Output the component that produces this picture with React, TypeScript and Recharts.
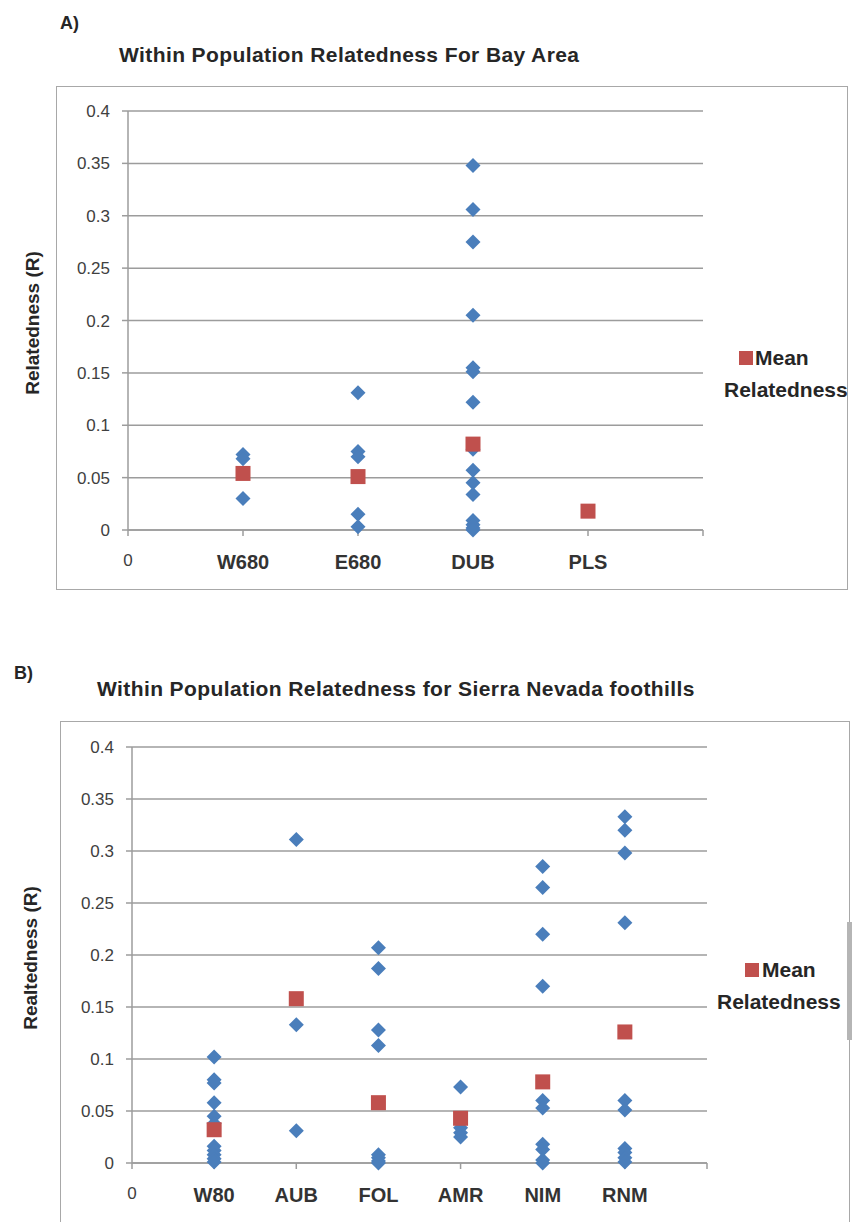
import React from 'react';
import { ScatterChart, Scatter, XAxis, YAxis, CartesianGrid } from 'recharts';

// Panel A: Bay Area
const bayCategories = ['W680', 'E680', 'DUB', 'PLS'];
const bayValues = [
  [0.072, 0.068, 0.030],
  [0.131, 0.075, 0.070, 0.015, 0.003],
  [0.348, 0.306, 0.275, 0.205, 0.155, 0.151, 0.122, 0.077, 0.057, 0.045, 0.034, 0.009, 0.005, 0.002, 0.0],
  []
];
const bayMeans = [0.054, 0.051, 0.082, 0.018];

// Panel B: Sierra Nevada foothills
const sierraCategories = ['W80', 'AUB', 'FOL', 'AMR', 'NIM', 'RNM'];
const sierraValues = [
  [0.102, 0.080, 0.077, 0.058, 0.045, 0.038, 0.016, 0.012, 0.008, 0.004, 0.001],
  [0.311, 0.133, 0.031],
  [0.207, 0.187, 0.128, 0.113, 0.008, 0.005, 0.002, 0.0],
  [0.073, 0.034, 0.029, 0.025],
  [0.285, 0.265, 0.220, 0.170, 0.060, 0.053, 0.018, 0.013, 0.003, 0.0],
  [0.333, 0.320, 0.298, 0.231, 0.060, 0.051, 0.014, 0.010, 0.005, 0.001]
];
const sierraMeans = [0.032, 0.158, 0.058, 0.043, 0.078, 0.126];

const yTicks = [0, 0.05, 0.1, 0.15, 0.2, 0.25, 0.3, 0.35, 0.4];

const BLUE = '#4A7EBB';
const RED = '#C0504D';
const GRID = '#9c9c9c';
const FONT = "'Liberation Sans', Arial, sans-serif";

const toPoints = (values: number[][]) =>
  values.flatMap((vals, i) => vals.map((v) => ({ x: i + 1, y: v })));
const toMeans = (means: number[]) => means.map((v, i) => ({ x: i + 1, y: v }));

const Diamond = (props: any) => {
  const { cx, cy } = props;
  const r = 7.5;
  return <path d={`M${cx},${cy - r}L${cx + r},${cy}L${cx},${cy + r}L${cx - r},${cy}Z`} fill={BLUE} />;
};

const Square = (props: any) => {
  const { cx, cy } = props;
  const s = 15;
  return <rect x={cx - s / 2} y={cy - s / 2} width={s} height={s} fill={RED} />;
};

function makeXTick(labels: string[]) {
  return (props: any) => {
    const { x, y, payload } = props;
    const label = labels[payload.value] ?? '';
    const isZero = payload.value === 0;
    return (
      <text
        x={x}
        y={y}
        dy={isZero ? 28 : 31}
        textAnchor="middle"
        fontFamily={FONT}
        fontSize={isZero ? 17 : 20}
        fontWeight={isZero ? 400 : 700}
        fill={isZero ? '#404040' : '#333'}>
        {label}
      </text>);
  };
}

function Panel({
  categories, values, means, top, height, plotLeft, plotRight, plotTop, plotBottom
}: any) {
  const n = categories.length + 1;
  const xTicks = Array.from({ length: n + 1 }, (_, i) => i);
  const xLabels = ['0', ...categories, ''];
  const yAxisWidth = 60;
  const xAxisHeight = 50;
  return (
    <div style={{ position: 'absolute', left: 0, top, width: 854, height }}>
      <ScatterChart
        width={854}
        height={height}
        margin={{
          top: plotTop,
          left: plotLeft - yAxisWidth,
          right: 854 - plotRight,
          bottom: height - plotBottom - xAxisHeight
        }}>
        <CartesianGrid vertical={false} stroke={GRID} strokeWidth={1.5} />
        <XAxis
          type="number"
          dataKey="x"
          domain={[0, n]}
          ticks={xTicks}
          interval={0}
          height={xAxisHeight}
          tickSize={6}
          stroke={GRID}
          strokeWidth={1.5}
          tick={makeXTick(xLabels)} />
        <YAxis
          type="number"
          dataKey="y"
          domain={[0, 0.4]}
          ticks={yTicks}
          interval={0}
          width={yAxisWidth}
          tickSize={6}
          tickMargin={12}
          stroke={GRID}
          strokeWidth={1.5}
          tick={{ fill: '#404040', fontSize: 17, fontFamily: FONT }} />
        <Scatter data={toPoints(values)} shape={<Diamond />} isAnimationActive={false} />
        <Scatter data={toMeans(means)} shape={<Square />} isAnimationActive={false} />
      </ScatterChart>
    </div>);
}

const text = (style: React.CSSProperties, content: string) =>
  <div style={{ position: 'absolute', fontFamily: FONT, whiteSpace: 'nowrap', color: '#262626', lineHeight: '24px', ...style }}>{content}</div>;

export default function App() {
  return (
    <div style={{ position: 'absolute', left: 0, top: 0, width: 854, height: 1222, background: '#fff', overflow: 'hidden' }}>
      {/* frames */}
      <div style={{ position: 'absolute', left: 56, top: 86, width: 790, height: 502, border: '1.5px solid #a8a8a8' }} />
      <div style={{ position: 'absolute', left: 60, top: 721, width: 788, height: 520, border: '1.5px solid #a8a8a8' }} />
      <div style={{ position: 'absolute', left: 847, top: 922, width: 5, height: 118, background: '#b5b5b5' }} />

      {text({ left: 60, top: 11, fontSize: 18, fontWeight: 700 }, 'A)')}
      {text({ left: 119, top: 43, fontSize: 21, fontWeight: 700, letterSpacing: 0.4 }, 'Within Population Relatedness For Bay Area')}
      {text({ left: 14, top: 661, fontSize: 18, fontWeight: 700 }, 'B)')}
      {text({ left: 97, top: 677, fontSize: 21, fontWeight: 700, letterSpacing: 0.4 }, 'Within Population Relatedness for Sierra Nevada foothills')}

      <Panel categories={bayCategories} values={bayValues} means={bayMeans}
        top={0} height={600} plotLeft={128} plotRight={703} plotTop={111} plotBottom={530} />
      <Panel categories={sierraCategories} values={sierraValues} means={sierraMeans}
        top={600} height={622} plotLeft={132} plotRight={707} plotTop={147} plotBottom={563} />

      {/* y-axis titles */}
      {text({ left: 33, top: 323, fontSize: 19, fontWeight: 700, transform: 'translate(-50%, -50%) rotate(-90deg)' }, 'Relatedness (R)')}
      {text({ left: 31, top: 958, fontSize: 19, fontWeight: 700, transform: 'translate(-50%, -50%) rotate(-90deg)' }, 'Realtedness (R)')}

      {/* legends */}
      <div style={{ position: 'absolute', left: 739, top: 351, width: 14, height: 14, background: RED }} />
      {text({ left: 755, top: 346, fontSize: 21, fontWeight: 700 }, 'Mean')}
      {text({ left: 724, top: 378, fontSize: 21, fontWeight: 700 }, 'Relatedness')}
      <div style={{ position: 'absolute', left: 745, top: 963, width: 14, height: 14, background: RED }} />
      {text({ left: 762, top: 958, fontSize: 21, fontWeight: 700 }, 'Mean')}
      {text({ left: 717, top: 990, fontSize: 21, fontWeight: 700 }, 'Relatedness')}
    </div>);
}
